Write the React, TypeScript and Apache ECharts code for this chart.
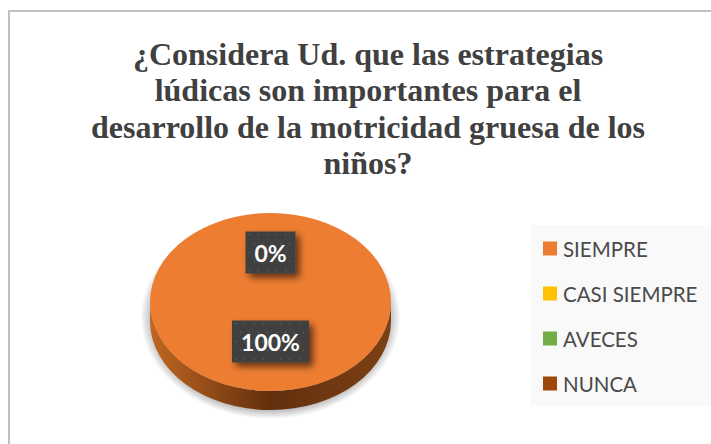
import React, { useEffect, useRef } from "react";
import * as echarts from "echarts";

const titleLines = [
  "¿Considera Ud. que las estrategias",
  "lúdicas son importantes para el",
  "desarrollo de la motricidad gruesa de los",
  "niños?",
];
const categories = ["SIEMPRE", "CASI SIEMPRE", "AVECES", "NUNCA"];
const values = [100, 0, 0, 0];
const colors = ["#ED7D31", "#FFC000", "#70AD47", "#9E480E"];
const sideColors = [
  ["#c0661f", "#62300e", "#7c4014"],
  ["#b38600", "#6b5000", "#8c6900"],
  ["#4e7a32", "#2f491e", "#3d5f27"],
  ["#6f320a", "#3f1c05", "#572708"],
];
const labelled = [true, true, false, false];

const CX = 270.5;
const CY = 302;
const RX = 120.5;
const RY = 89;
const DEPTH = 19;
const LABEL_DY = -5;
const total = values.reduce((a, b) => a + b, 0);

const pt = (deg: number, k = 1, dy = 0) => {
  const r = (deg * Math.PI) / 180;
  return [CX + RX * k * Math.sin(r), CY + dy - RY * k * Math.cos(r)];
};

function topPath(a: number, b: number) {
  if (b - a >= 359.999) {
    return `M${CX} ${CY - RY}A${RX} ${RY} 0 1 1 ${CX} ${CY + RY}A${RX} ${RY} 0 1 1 ${CX} ${CY - RY}Z`;
  }
  const p = pt(a);
  const q = pt(b);
  return `M${CX} ${CY}L${p[0]} ${p[1]}A${RX} ${RY} 0 ${b - a > 180 ? 1 : 0} 1 ${q[0]} ${q[1]}Z`;
}

function sidePath(a: number, b: number) {
  const s = Math.max(a, 90);
  const e = Math.min(b, 270);
  if (e <= s) return null;
  const p = pt(s);
  const q = pt(e);
  const q2 = pt(e, 1, DEPTH);
  const p2 = pt(s, 1, DEPTH);
  return `M${p[0]} ${p[1]}A${RX} ${RY} 0 0 1 ${q[0]} ${q[1]}L${q2[0]} ${q2[1]}A${RX} ${RY} 0 0 0 ${p2[0]} ${p2[1]}Z`;
}

function labelChildren(text: string, cx: number, cy: number) {
  const w = 23 + 13.5 * text.length;
  const h = 42;
  const x = cx - w / 2;
  const y = cy - h / 2;
  const dots: any[] = [];
  for (let row = 0; row < 5; row++) {
    for (let col = 0; (col + 1) * 9 < w; col++) {
      dots.push({
        type: "circle",
        silent: true,
        shape: { cx: x + 4 + col * 9 + (row % 2 ? 4.5 : 0), cy: y + 3 + row * 9, r: 0.9 },
        style: { fill: "#565656" },
      });
    }
  }
  return [
    {
      type: "rect",
      shape: { x, y, width: w, height: h },
      style: { fill: "#404040", shadowBlur: 7, shadowColor: "rgba(0,0,0,0.6)", shadowOffsetX: 4, shadowOffsetY: 4 },
    },
    ...dots,
    {
      type: "text",
      style: {
        x: cx,
        y: cy,
        text,
        fill: "#ffffff",
        font: 'bold 23px Lato, "Noto Sans", sans-serif',
        align: "center",
        verticalAlign: "middle",
      },
    },
  ];
}

function makeRender(index: number) {
  return (_params: any, api: any) => {
    const v = api.value(0);
    const before = values.slice(0, index).reduce((a, b) => a + b, 0);
    const a = (before / total) * 360;
    const b = ((before + v) / total) * 360;
    const children: any[] = [];
    if (v > 0) {
      const side = sidePath(a, b);
      if (side) {
        children.push({
          type: "ellipse",
          silent: true,
          shape: { cx: CX, cy: CY + 15, rx: 130, ry: 102 },
          style: {
            fill: new echarts.graphic.RadialGradient(0.5, 0.5, 0.5, [
              { offset: 0, color: "rgba(0,0,0,0.3)" },
              { offset: 0.9, color: "rgba(0,0,0,0.3)" },
              { offset: 1, color: "rgba(0,0,0,0)" },
            ]),
          },
        });
        children.push({
          type: "path",
          shape: { pathData: side },
          style: {
            fill: new echarts.graphic.LinearGradient(0, 0, 1, 0, [
              { offset: 0, color: sideColors[index][0] },
              { offset: 0.5, color: sideColors[index][1] },
              { offset: 1, color: sideColors[index][2] },
            ]),
          },
        });
      }
      children.push({
        type: "path",
        shape: { pathData: topPath(a, b) },
        style: { fill: colors[index] },
      });
    }
    if (labelled[index]) {
      const mid = v > 0 ? (a + b) / 2 : a % 360;
      const p = pt(mid, 0.5, LABEL_DY);
      children.push(...labelChildren(`${Math.round((v / total) * 100)}%`, p[0], p[1]));
    }
    return { type: "group", children };
  };
}

export default function App() {
  const ref = useRef<HTMLDivElement>(null);
  useEffect(() => {
    document.body.style.margin = "0";
    const chart = echarts.init(ref.current!, undefined, { renderer: "svg" });
    chart.setOption({
      animation: false,
      backgroundColor: "#ffffff",
      graphic: [
        {
          type: "rect",
          z: 0,
          shape: { x: 9, y: 11, width: 720, height: 450 },
          style: { fill: "#ffffff", stroke: "#bfbfbf", lineWidth: 2 },
        },
        {
          type: "rect",
          z: 0,
          shape: { x: 531, y: 225, width: 180, height: 181 },
          style: { fill: "#f9f9f9" },
        },
        ...titleLines.map((t, i) => ({
          type: "text",
          z: 5,
          style: {
            x: 368,
            y: 53.5 + i * 36.5,
            text: t,
            fill: "#404040",
            font: 'bold 32px "Liberation Serif", serif',
            align: "center",
            verticalAlign: "middle",
          },
        })),
      ],
      legend: {
        orient: "vertical",
        left: 543,
        top: 238,
        padding: 0,
        itemWidth: 14,
        itemHeight: 14,
        itemGap: 24,
        icon: "rect",
        selectedMode: false,
        data: categories,
        textStyle: {
          color: "#4a4a4a",
          fontFamily: 'Lato, "Noto Sans", sans-serif',
          fontSize: 20.5,
          lineHeight: 20,
          padding: [0, 0, 0, 1],
        },
      },
      series: categories.map((name, i) => ({
        type: "custom",
        name,
        coordinateSystem: "none",
        silent: true,
        z: 2,
        itemStyle: { color: colors[i] },
        data: [[values[i]]],
        renderItem: makeRender(i),
      })),
    });
    return () => chart.dispose();
  }, []);
  return <div ref={ref} style={{ width: 711, height: 444 }} />;
}
